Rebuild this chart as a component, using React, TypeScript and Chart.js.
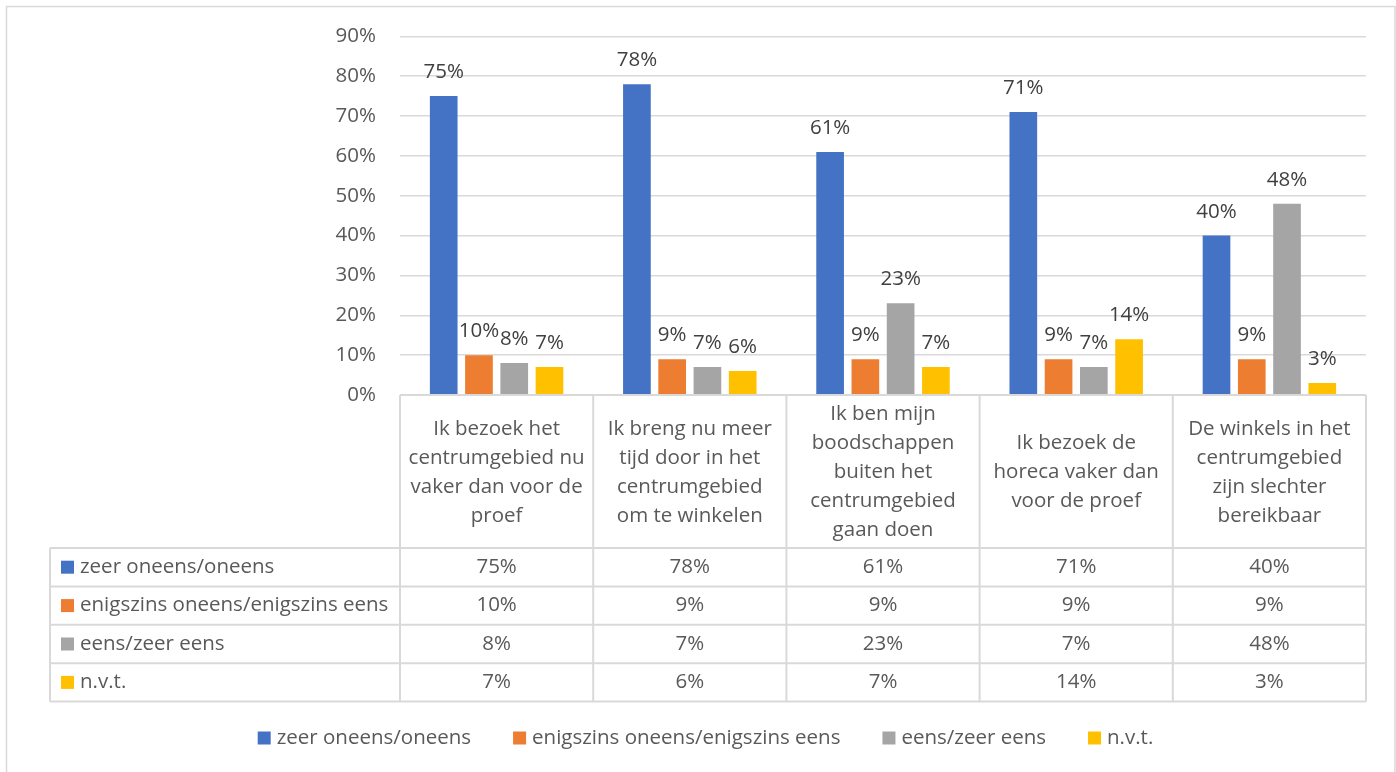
import React, { useEffect, useRef } from "react";
import { Chart, registerables } from "chart.js";

Chart.register(...registerables);

const categories: string[][] = [
  ["Ik bezoek het", "centrumgebied nu", "vaker dan voor de", "proef"],
  ["Ik breng nu meer", "tijd door in het", "centrumgebied", "om te winkelen"],
  ["Ik ben mijn", "boodschappen", "buiten het", "centrumgebied", "gaan doen"],
  ["Ik bezoek de", "horeca vaker dan", "voor de proef"],
  ["De winkels in het", "centrumgebied", "zijn slechter", "bereikbaar"],
];

const seriesNames = [
  "zeer oneens/oneens",
  "enigszins oneens/enigszins eens",
  "eens/zeer eens",
  "n.v.t.",
];

const zeerOneens = [75, 78, 61, 71, 40];
const enigszins = [10, 9, 9, 9, 9];
const eensZeerEens = [8, 7, 23, 7, 48];
const nvt = [7, 6, 7, 14, 3];

const seriesColors = ["#4472C4", "#ED7D31", "#A5A5A5", "#FFC000"];

const yMin = 0;
const yMax = 90;
const yStep = 10;

const FONT = '"Open Sans", "DejaVu Sans", sans-serif';
const FONT_SIZE = 20.5;
const TEXT = "#595959";
const LABEL = "#404040";
const GRID = "#d9d9d9";

const tablePlugin = {
  id: "excelTable",
  afterDraw(chart: any) {
    const ctx = chart.ctx as CanvasRenderingContext2D;
    const area = chart.chartArea;
    const xs = chart.scales.x;
    const n = chart.data.labels.length;
    const colW = area.width / n;

    // data labels
    ctx.save();
    ctx.font = `${FONT_SIZE}px ${FONT}`;
    ctx.fillStyle = LABEL;
    ctx.textAlign = "center";
    ctx.textBaseline = "alphabetic";
    chart.data.datasets.forEach((ds: any, di: number) => {
      const meta = chart.getDatasetMeta(di);
      meta.data.forEach((el: any, i: number) => {
        ctx.fillText(ds.data[i] + "%", el.x, el.y - 18);
      });
    });
    ctx.restore();

    // table
    const top = area.bottom;
    const headerBottom = 548;
    const rowH = 38.4;
    const tableLeft = 50;
    const nRows = chart.data.datasets.length;
    const tableBottom = headerBottom + rowH * nRows;

    ctx.save();
    ctx.strokeStyle = GRID;
    ctx.lineWidth = 2;
    ctx.beginPath();
    ctx.moveTo(area.left, top);
    ctx.lineTo(area.right, top);
    for (let r = 0; r <= nRows; r++) {
      const y = headerBottom + rowH * r;
      ctx.moveTo(tableLeft, y);
      ctx.lineTo(area.right, y);
    }
    ctx.moveTo(tableLeft, headerBottom);
    ctx.lineTo(tableLeft, tableBottom);
    for (let c = 0; c <= n; c++) {
      const x = c < n ? xs.getPixelForValue(c) - colW / 2 : xs.getPixelForValue(n - 1) + colW / 2;
      ctx.moveTo(x, top);
      ctx.lineTo(x, tableBottom);
    }
    ctx.stroke();

    ctx.font = `${FONT_SIZE}px ${FONT}`;
    ctx.fillStyle = TEXT;
    ctx.textAlign = "center";
    ctx.textBaseline = "middle";
    const lineH = 29;
    const headerMid = (top + headerBottom) / 2;
    chart.data.labels.forEach((lab: string[], i: number) => {
      const cx = xs.getPixelForValue(i);
      const startY = headerMid - ((lab.length - 1) * lineH) / 2;
      lab.forEach((ln, k) => ctx.fillText(ln, cx, startY + k * lineH + 1));
    });

    chart.data.datasets.forEach((ds: any, di: number) => {
      const cy = headerBottom + rowH * di + rowH / 2;
      ctx.fillStyle = ds.backgroundColor;
      ctx.fillRect(61, cy - 6.5, 13, 13);
      ctx.fillStyle = TEXT;
      ctx.textAlign = "left";
      ctx.fillText(ds.label, 80, cy);
      ctx.textAlign = "center";
      ds.data.forEach((v: number, i: number) => {
        ctx.fillText(v + "%", xs.getPixelForValue(i), cy);
      });
    });

    // bottom legend
    const legendY = 738;
    const sq = 13;
    const gapSq = 6;
    const gapItem = 42;
    const widths = chart.data.datasets.map((ds: any) => ctx.measureText(ds.label).width);
    const total = widths.reduce((a: number, w: number) => a + sq + gapSq + w, 0) + gapItem * (widths.length - 1);
    let lx = 705.5 - total / 2;
    ctx.textAlign = "left";
    chart.data.datasets.forEach((ds: any, di: number) => {
      ctx.fillStyle = ds.backgroundColor;
      ctx.fillRect(lx, legendY - sq / 2, sq, sq);
      ctx.fillStyle = TEXT;
      ctx.fillText(ds.label, lx + sq + gapSq, legendY);
      lx += sq + gapSq + widths[di] + gapItem;
    });

    // outer border
    ctx.strokeStyle = GRID;
    ctx.lineWidth = 1.5;
    ctx.strokeRect(6.5, 6.5, 1388.5, 820);
    ctx.restore();
  },
};

export default function App() {
  const ref = useRef<HTMLCanvasElement | null>(null);

  useEffect(() => {
    if (!ref.current) return;
    const seriesData = [zeerOneens, enigszins, eensZeerEens, nvt];
    const chart = new Chart(ref.current, {
      type: "bar",
      data: {
        labels: categories as any,
        datasets: seriesNames.map((name, i) => ({
          label: name,
          data: seriesData[i],
          backgroundColor: seriesColors[i],
          borderWidth: 0,
          categoryPercentage: 0.73,
          barPercentage: 0.785,
        })),
      },
      options: {
        animation: false,
        responsive: true,
        maintainAspectRatio: false,
        layout: { padding: { top: 35, bottom: 377, right: 30, left: 0 } },
        plugins: {
          legend: { display: false },
          tooltip: { enabled: false },
        },
        scales: {
          x: { display: false },
          y: {
            min: yMin,
            max: yMax,
            border: { display: false },
            grid: { color: GRID, lineWidth: 1.5, drawTicks: false },
            ticks: {
              stepSize: yStep,
              padding: 24,
              color: TEXT,
              font: { family: FONT, size: FONT_SIZE },
              callback: (v: any) => v + "%",
            },
            afterFit: (s: any) => {
              s.width = 400;
            },
          },
        },
      },
      plugins: [tablePlugin],
    });
    return () => chart.destroy();
  }, []);

  return (
    <div
      style={{
        position: "fixed",
        left: 0,
        top: 0,
        width: 1396,
        height: 772,
        background: "#fff",
      }}
    >
      <canvas ref={ref} />
    </div>
  );
}
